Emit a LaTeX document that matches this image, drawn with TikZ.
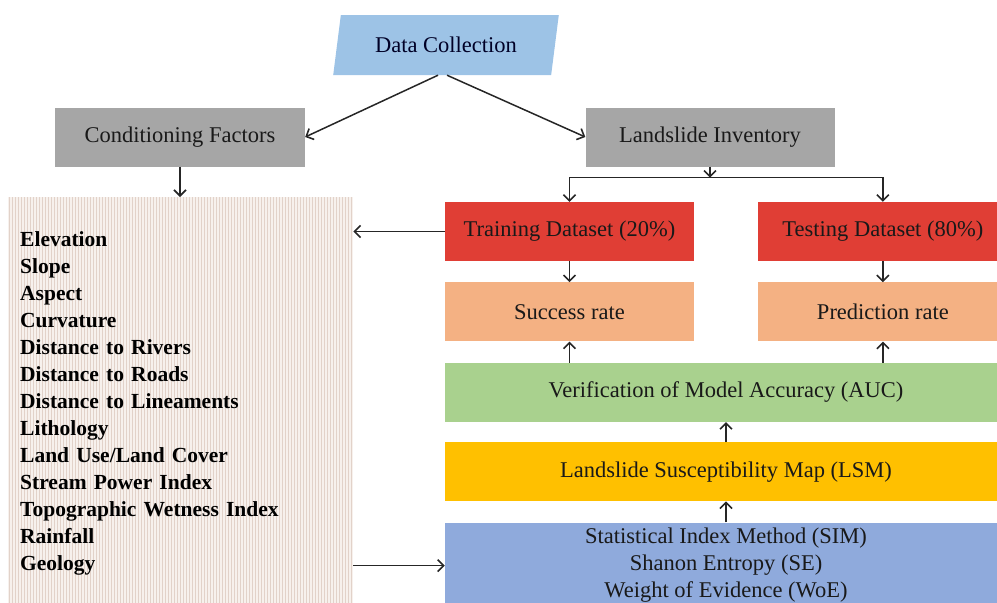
\documentclass[tikz,border=0pt]{standalone}
\usepackage{fontspec}
\setmainfont{Liberation Serif}
\usetikzlibrary{positioning,shapes.geometric,arrows.meta}

\definecolor{dcblue}{HTML}{9DC3E6}
\definecolor{boxgray}{HTML}{A6A6A6}
\definecolor{setred}{HTML}{E03E35}
\definecolor{ratepeach}{HTML}{F4B183}
\definecolor{aucgreen}{HTML}{A9D18E}
\definecolor{lsmyellow}{HTML}{FFC000}
\definecolor{methblue}{HTML}{8FAADC}
\definecolor{paper}{HTML}{F7F1ED}
\definecolor{paperline}{HTML}{E2D2C9}

\tikzset{
  box/.style={rectangle, inner sep=0pt, text=black!90,
    font=\fontsize{22.5}{27}\selectfont, align=center},
  graybox/.style={box, fill=boxgray, minimum width=250pt, minimum height=59pt},
  setbox/.style={box, fill=setred, minimum width=249pt, minimum height=59pt},
  ratebox/.style={box, fill=ratepeach, minimum width=249pt, minimum height=59pt},
  widebox/.style={box, minimum width=562pt, minimum height=59pt},
  stripes/.style={path picture={
      \foreach \s in {1,4,...,345}
        \draw[paperline, line width=1.4pt]
          ([xshift=\s pt]path picture bounding box.south west) --
          ([xshift=\s pt]path picture bounding box.north west);}},
  flow/.style={->, line width=1.5pt, black!85},
  >={Straight Barb[length=6pt,width=12pt,line width=1.6pt]}
}

\begin{document}
\begin{tikzpicture}[x=1pt, y=-1pt]
  \useasboundingbox (0,0) rectangle (997,603);
  \clip (0,0) rectangle (997,603);

  \node [trapezium, trapezium left angle=72, trapezium right angle=108,
    trapezium stretches=true, fill=dcblue, minimum width=226pt,
    minimum height=60pt, inner sep=0pt, text=black!85!blue,
    font=\fontsize{22.5}{27}\selectfont] (data) at (446,45) {Data Collection};
  \node [graybox] (cond) at (180,137) {Conditioning Factors};
  \node [graybox, minimum width=249pt] (inv) at (710,137) {Landslide Inventory};

  \node [setbox] (train) at (569.5,231.5) {Training Dataset (20\%)};
  \node [setbox] (test) [right=64pt of train] {Testing Dataset (80\%)};
  \node [ratebox] (succ) [below=21pt of train] {Success rate};
  \node [ratebox] (pred) [below=21pt of test] {Prediction rate};
  \node [widebox, fill=aucgreen, anchor=north west] (verif)
    at ([yshift=-21pt]succ.south west) {Verification of Model Accuracy (AUC)};
  \node [widebox, fill=lsmyellow] (lsm) [below=20pt of verif]
    {Landslide Susceptibility Map (LSM)};
  \node [widebox, fill=methblue, minimum height=86pt] (meth) [below=21pt of lsm]
    {Statistical Index Method (SIM)\\ Shanon Entropy (SE)\\ Weight of Evidence (WoE)};

  % conditioning factors list
  \node [rectangle, fill=paper, stripes, minimum width=345pt, minimum height=413pt,
    anchor=north west, inner xsep=12pt, text width=321pt, align=left,
    font=\fontsize{21.5}{27}\selectfont\bfseries] (factors) at (8,197)
    {Elevation\\ Slope\\ Aspect\\ Curvature\\ Distance to Rivers\\
     Distance to Roads\\ Distance to Lineaments\\ Lithology\\
     Land Use/Land Cover\\ Stream Power Index\\ Topographic Wetness Index\\
     Rainfall\\ Geology};

  \coordinate (split) at ([yshift=-11pt]inv.south);

  \draw [flow] ([xshift=-8pt]data.south) -- (cond.east);
  \draw [flow] ([xshift=1pt]data.south) -- (inv.west);
  \draw [flow] (cond.south) -- (cond.south |- factors.north);
  \draw [flow] (inv.south) -- (split);
  \draw [flow] (split) -| (train.north);
  \draw [flow] (split) -| (test.north);
  \draw [flow] (train.west) -- (train.west -| factors.east);
  \draw [flow] (train.south) -- (succ.north);
  \draw [flow] (test.south) -- (pred.north);
  \draw [flow] (verif.north -| succ.south) -- (succ.south);
  \draw [flow] (verif.north -| pred.south) -- (pred.south);
  \draw [flow] (lsm.north) -- (verif.south);
  \draw [flow] (meth.north) -- (lsm.south);
  \draw [flow] (meth.west -| factors.east) -- (meth.west);
\end{tikzpicture}
\end{document}
